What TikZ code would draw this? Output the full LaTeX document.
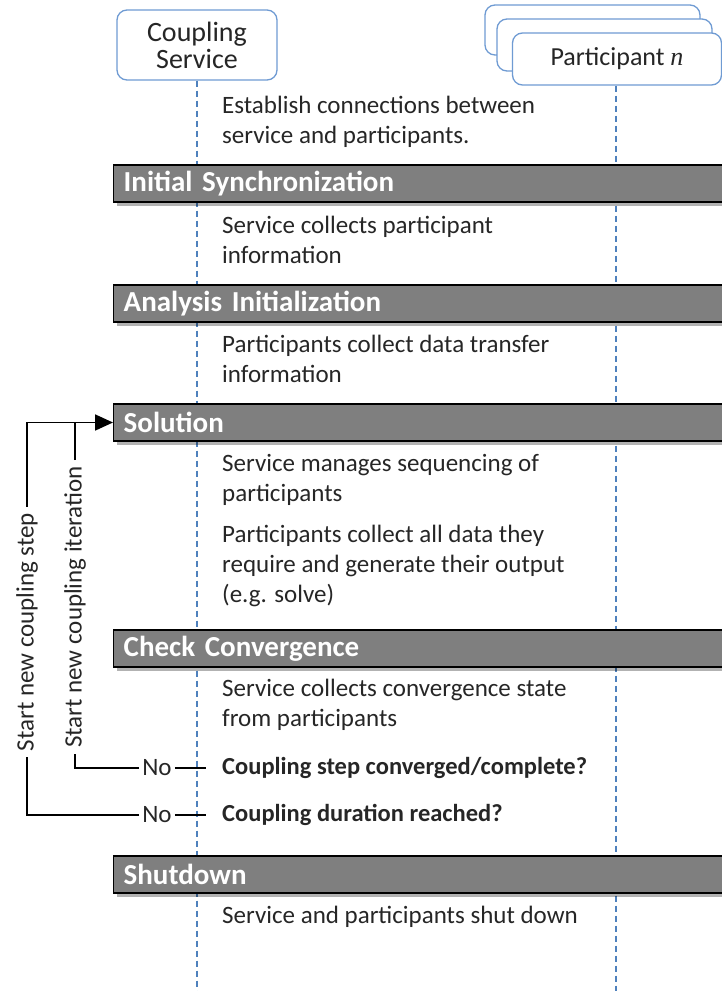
\documentclass[tikz,border=0pt]{standalone}
\usepackage{fontspec}
\setmainfont{Carlito}
\newfontfamily\serifit{Liberation Serif}
\usetikzlibrary{arrows.meta,shadows,calc}
\definecolor{lifeblue}{HTML}{4F81BD}
\definecolor{boxblue}{HTML}{6F9BD3}
\definecolor{barfill}{HTML}{7F7F7F}
\definecolor{txt}{HTML}{262626}
\tikzset{
  actor/.style={draw=boxblue, line width=1.3pt, rounded corners=10pt, fill=white, align=center, text=txt, inner sep=0pt},
  lifeline/.style={draw=lifeblue, dashed, dash pattern=on 6pt off 4pt, line width=1.3pt},
  phasebar/.style={draw=black, line width=1.4pt, fill=barfill, anchor=west, minimum height=37pt, minimum width=640pt, text width=620pt, align=left, inner xsep=10pt, inner ysep=0pt, text=white, font=\fontsize{29}{30}\selectfont\bfseries,
     drop shadow={shadow xshift=3pt, shadow yshift=-4pt, opacity=0.3, fill=black}},
  desc/.style={anchor=north west, align=left, text=txt, inner sep=0pt, font=\fontsize{25}{30}\selectfont},
  question/.style={anchor=west, text=txt, inner sep=0pt, font=\fontsize{24.5}{26}\selectfont\bfseries},
  nolab/.style={text=txt, inner sep=3pt, font=\fontsize{25}{26}\selectfont},
  looplab/.style={rotate=90, text=txt, inner sep=6pt, font=\fontsize{25}{26}\selectfont},
  loopline/.style={draw=black, line width=1.8pt},
}
\begin{document}
\begin{tikzpicture}[x=1pt,y=-1pt]
\useasboundingbox (0,0) rectangle (722,991);
\clip (0,0) rectangle (722,991);
% actors
\node[actor, minimum width=160pt, minimum height=70pt, font=\fontsize{28}{27}\selectfont] (cs) at (197,45) {Coupling\\Service};
\node[actor, minimum width=215pt, minimum height=50pt] (p3) at (592.5,30) {};
\node[actor, minimum width=215pt, minimum height=52pt] (p2) at (604.5,45) {};
\node[actor, minimum width=209pt, minimum height=52pt, font=\fontsize{26}{28}\selectfont] (p1) at (617,59) {Participant {\serifit\itshape n}};
% lifelines
\coordinate (csEnd) at (197,991);
\coordinate (pEnd) at (616,991);
\draw[lifeline] (cs.south) -- (csEnd);
\draw[lifeline] (p1.south -| pEnd) -- (pEnd);
% phase bars
\node[phasebar] (initsync) at (113,183.5) {Initial Synchronization};
\node[phasebar] (anainit) at (113,303.5) {Analysis Initialization};
\node[phasebar] (solution) at (113,422.5) {Solution};
\node[phasebar] (check) at (113,648.5) {Check Convergence};
\node[phasebar] (shutdown) at (113,874.5) {Shutdown};
% descriptions
\node[desc] (d1) at (222,96) {Establish connections between\\service and participants.};
\node[desc] (d2) at (222,216) {Service collects participant\\information};
\node[desc] (d3) at (222,335) {Participants collect data transfer\\information};
\node[desc] (d4) at (222,454) {Service manages sequencing of\\participants};
\node[desc] (d5) at (222,525) {Participants collect all data they\\require and generate their output\\(e.g. solve)};
\node[desc] (d6) at (222,679) {Service collects convergence state\\from participants};
\node[desc] (d7) at (222,906) {Service and participants shut down};
% questions
\node[question] (q1) at (222,768) {Coupling step converged/complete?};
\node[question] (q2) at (222,815) {Coupling duration reached?};
\node[nolab] (no1) at (157,768) {No};
\node[nolab] (no2) at (157,815) {No};
% loop labels
\node[looplab] (lab2) at (27,632) {Start new coupling step};
\node[looplab] (lab1) at (75,607) {Start new coupling iteration};
% loops
\draw[loopline, shorten >=16pt] (no1.east) -- (q1.west);
\draw[loopline, shorten >=16pt] (no2.east) -- (q2.west);
\draw[loopline] (no1.west) -| (lab1.west);
\draw[loopline] (no2.west) -| (lab2.west);
\draw[loopline, -{Triangle[length=18pt,width=16pt]}] (lab2.east) |- (solution.west);
\draw[loopline] (lab1.east) -- (lab1.east |- solution.west);
\end{tikzpicture}
\end{document}
